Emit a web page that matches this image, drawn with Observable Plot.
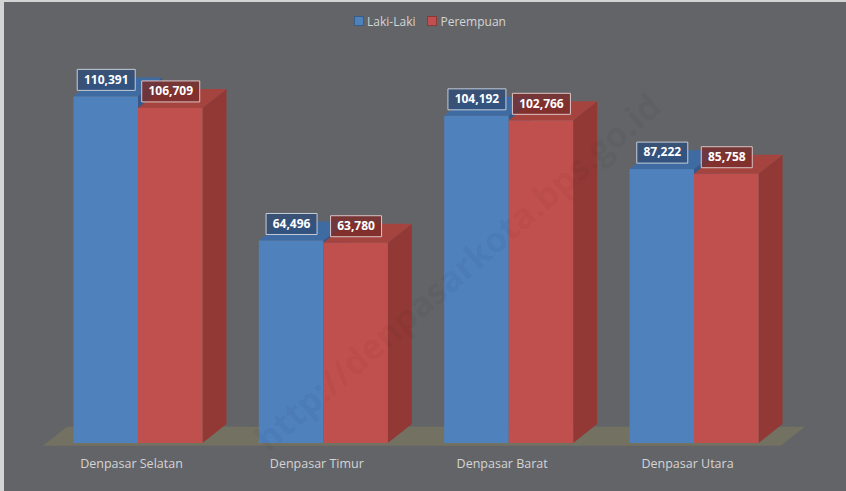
<!DOCTYPE html>
<html>
<head>
<meta charset="utf-8">
<script src="https://cdn.jsdelivr.net/npm/d3@7"></script>
<script src="https://cdn.jsdelivr.net/npm/@observablehq/plot@0.6"></script>
<style>
  html, body { margin: 0; padding: 0; background: #d4d4d4; }
  #wrap { margin: 2px 0 0 4px; width: 842px; height: 489px; background: #636468; overflow: hidden; }
  #legend { height: 38px; display: flex; justify-content: center; align-items: center; gap: 12px;
            padding-left: 10px; box-sizing: border-box; font-family: "Open Sans", sans-serif; font-size: 12px; color: #d4d4d4; }
  #legend span.item { display: inline-flex; align-items: center; gap: 3px; }
  #legend span.sw { display: inline-block; width: 8px; height: 8px; }
  #chart svg { display: block; }
</style>
</head>
<body>
<div id="wrap">
  <div id="legend"></div>
  <div id="chart"></div>
</div>
<script>
// ---- data ----
const districts = ["Denpasar Selatan", "Denpasar Timur", "Denpasar Barat", "Denpasar Utara"];
const seriesNames = ["Laki-Laki", "Perempuan"];
const lakiLaki = [110391, 64496, 104192, 87222];
const perempuan = [106709, 63780, 102766, 85758];
const watermark = "http://denpasarkota.bps.go.id";

// ---- styles ----
const frontColors = ["#4f81bd", "#c0504d"];
const topColors = ["#3f6ba3", "#a5443f"];
const sideColors = ["#36598a", "#923936"];
const swatchBorder = ["#385d8a", "#8c3836"];
const boxFill = ["#2f4d78", "#7a2c2b"];
const boxStroke = ["#c5cdd8", "#dcc4c4"];

const W = 0.348;     // bar width (x units)
const DX = 0.1295;   // 3D depth in x units
const DY = 6050;     // 3D depth in y units
const fmt = d3.format(",");

const values = [lakiLaki, perempuan];
const bars = [];
values.forEach((arr, s) => arr.forEach((v, i) => {
  const x1 = s === 0 ? i - W : i;
  const x2 = s === 0 ? i : i + W;
  bars.push({id: s + "-" + i, s, i, district: districts[i], series: seriesNames[s], value: v,
             x1, x2, xc: (x1 + x2) / 2, zero: 0, label: fmt(v)});
}));

function sidePts(b) {
  return [
    {id: b.id, x: b.x2, y1: 0, y2: b.value},
    {id: b.id, x: b.x2 + DX, y1: DY, y2: b.value + DY}
  ];
}
function topPts(b) {
  return [
    {id: b.id, x: b.x1, y1: b.value, y2: b.value},
    {id: b.id, x: b.x1 + DX, y1: b.value, y2: b.value + DY},
    {id: b.id, x: b.x2, y1: b.value, y2: b.value + DY},
    {id: b.id, x: b.x2 + DX, y1: b.value + DY, y2: b.value + DY}
  ];
}
// floor plane under the bars
const fy = -900;
const fa = -W - 0.165, fb = (districts.length - 1) + W + 0.12;
const floorPts = [
  {id: "floor", x: fa, y1: fy, y2: fy},
  {id: "floor", x: fa + DX, y1: fy, y2: fy + DY},
  {id: "floor", x: fb, y1: fy, y2: fy + DY},
  {id: "floor", x: fb + DX, y1: fy + DY, y2: fy + DY}
];

function boxSymbol(w, h) {
  return {draw(ctx) {
    ctx.moveTo(-w / 2, -h / 2); ctx.lineTo(w / 2, -h / 2);
    ctx.lineTo(w / 2, h / 2); ctx.lineTo(-w / 2, h / 2); ctx.closePath();
  }};
}

const marks = [
  Plot.area(floorPts, {x1: "x", y1: "y1", y2: "y2", z: "id", fill: "#737161"})
];
[0, 1].forEach(s => {
  const bs = bars.filter(b => b.s === s);
  marks.push(
    Plot.area(bs.flatMap(sidePts), {x1: "x", y1: "y1", y2: "y2", z: "id", fill: sideColors[s]}),
    Plot.area(bs.flatMap(topPts), {x1: "x", y1: "y1", y2: "y2", z: "id", fill: topColors[s]}),
    Plot.rect(bs, {x1: "x1", x2: "x2", y1: "zero", y2: "value", fill: frontColors[s]})
  );
});
// value labels
[0, 1].forEach(s => {
  const bs = bars.filter(b => b.s === s);
  const lens = Array.from(new Set(bs.map(b => b.label.length)));
  lens.forEach(len => {
    marks.push(Plot.dot(bs.filter(b => b.label.length === len), {
      x: "xc", y: "value", dy: -17, r: 5,
      symbol: boxSymbol(7 * len + 9, 21),
      fill: boxFill[s], fillOpacity: 0.82, stroke: boxStroke[s], strokeWidth: 1
    }));
  });
  marks.push(Plot.text(bs, {
    x: "xc", y: "value", dy: -17, text: "label", fill: "white",
    fontSize: 12, fontWeight: "bold"
  }));
});
// category labels
marks.push(Plot.text(districts.map((d, i) => ({d, i})), {
  x: "i", text: "d", frameAnchor: "bottom", dy: 24, dx: -7,
  fill: "#d4d4d4", fontSize: 12.5
}));
// watermark
marks.push(Plot.text([watermark], {
  text: d => d, frameAnchor: "middle", dx: 42, dy: 18, rotate: -41,
  fontSize: 35, fontWeight: "bold", fill: "#000", fillOpacity: 0.055
}));

const chart = Plot.plot({
  width: 842,
  height: 451,
  marginLeft: 41.3,
  marginRight: 59.3,
  marginTop: 26.2,
  marginBottom: 48,
  x: {type: "linear", domain: [-0.5, 3.5], axis: null},
  y: {domain: [0, 120000], axis: null},
  style: {background: "transparent", fontFamily: "'Open Sans', sans-serif", overflow: "visible"},
  marks
});
document.getElementById("chart").appendChild(chart);

// legend
const legend = document.getElementById("legend");
seriesNames.forEach((name, s) => {
  const item = document.createElement("span");
  item.className = "item";
  const sw = document.createElement("span");
  sw.className = "sw";
  sw.style.background = frontColors[s];
  sw.style.border = "1px solid " + swatchBorder[s];
  item.appendChild(sw);
  item.appendChild(document.createTextNode(name));
  legend.appendChild(item);
});
</script>
</body>
</html>
